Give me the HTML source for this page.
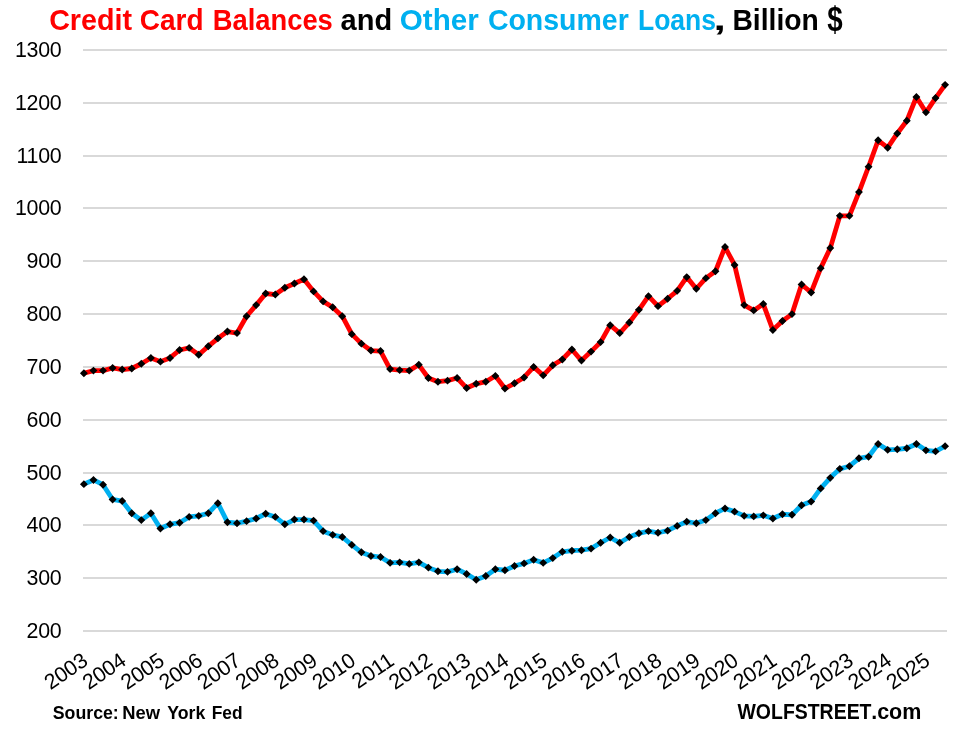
<!DOCTYPE html>
<html><head><meta charset="utf-8"><title>Credit Card Balances and Other Consumer Loans</title>
<style>
html,body{margin:0;padding:0;background:#fff;}
svg{display:block;font-family:"Liberation Sans",sans-serif;}
</style></head><body>
<svg width="956" height="732" viewBox="0 0 956 732">
<rect width="956" height="732" fill="#fff"/>

<line x1="83" x2="947" y1="631.00" y2="631.00" stroke="#d9d9d9" stroke-width="2"/>
<text x="61.5" y="637.70" font-size="21.4" letter-spacing="-0.25" text-anchor="end" fill="#000">200</text>
<line x1="83" x2="947" y1="578.00" y2="578.00" stroke="#d9d9d9" stroke-width="2"/>
<text x="61.5" y="584.70" font-size="21.4" letter-spacing="-0.25" text-anchor="end" fill="#000">300</text>
<line x1="83" x2="947" y1="525.00" y2="525.00" stroke="#d9d9d9" stroke-width="2"/>
<text x="61.5" y="531.70" font-size="21.4" letter-spacing="-0.25" text-anchor="end" fill="#000">400</text>
<line x1="83" x2="947" y1="473.00" y2="473.00" stroke="#d9d9d9" stroke-width="2"/>
<text x="61.5" y="479.70" font-size="21.4" letter-spacing="-0.25" text-anchor="end" fill="#000">500</text>
<line x1="83" x2="947" y1="420.00" y2="420.00" stroke="#d9d9d9" stroke-width="2"/>
<text x="61.5" y="426.70" font-size="21.4" letter-spacing="-0.25" text-anchor="end" fill="#000">600</text>
<line x1="83" x2="947" y1="367.00" y2="367.00" stroke="#d9d9d9" stroke-width="2"/>
<text x="61.5" y="373.70" font-size="21.4" letter-spacing="-0.25" text-anchor="end" fill="#000">700</text>
<line x1="83" x2="947" y1="314.00" y2="314.00" stroke="#d9d9d9" stroke-width="2"/>
<text x="61.5" y="320.70" font-size="21.4" letter-spacing="-0.25" text-anchor="end" fill="#000">800</text>
<line x1="83" x2="947" y1="261.00" y2="261.00" stroke="#d9d9d9" stroke-width="2"/>
<text x="61.5" y="267.70" font-size="21.4" letter-spacing="-0.25" text-anchor="end" fill="#000">900</text>
<line x1="83" x2="947" y1="208.00" y2="208.00" stroke="#d9d9d9" stroke-width="2"/>
<text x="61.5" y="214.70" font-size="21.4" letter-spacing="-0.25" text-anchor="end" fill="#000">1000</text>
<line x1="83" x2="947" y1="156.00" y2="156.00" stroke="#d9d9d9" stroke-width="2"/>
<text x="61.5" y="162.70" font-size="21.4" letter-spacing="-0.25" text-anchor="end" fill="#000">1100</text>
<line x1="83" x2="947" y1="103.00" y2="103.00" stroke="#d9d9d9" stroke-width="2"/>
<text x="61.5" y="109.70" font-size="21.4" letter-spacing="-0.25" text-anchor="end" fill="#000">1200</text>
<line x1="83" x2="947" y1="50.00" y2="50.00" stroke="#d9d9d9" stroke-width="2"/>
<text x="61.5" y="56.70" font-size="21.4" letter-spacing="-0.25" text-anchor="end" fill="#000">1300</text>
<polyline points="83.90,484.17 93.47,479.94 103.04,484.69 112.61,499.48 122.18,501.07 131.74,513.22 141.31,520.08 150.88,513.22 160.45,528.53 170.02,524.31 179.59,522.72 189.16,516.91 198.73,515.86 208.30,513.22 217.86,503.18 227.43,522.19 237.00,523.25 246.57,521.14 256.14,518.50 265.71,513.74 275.28,516.91 284.85,524.31 294.42,519.55 303.98,519.55 313.55,520.61 323.12,531.17 332.69,534.87 342.26,536.98 351.83,544.91 361.40,552.30 370.97,556.00 380.54,557.05 390.10,562.86 399.67,562.34 409.24,563.92 418.81,562.34 428.38,567.62 437.95,571.32 447.52,571.84 457.09,569.20 466.66,573.96 476.22,579.77 485.79,576.07 495.36,569.20 504.93,570.26 514.50,566.03 524.07,563.39 533.64,559.70 543.21,562.86 552.78,558.11 562.34,551.77 571.91,550.72 581.48,550.19 591.05,548.60 600.62,542.79 610.19,537.51 619.76,542.79 629.33,536.98 638.90,533.29 648.46,531.17 658.03,532.76 667.60,530.65 677.17,525.89 686.74,521.67 696.31,523.25 705.88,520.08 715.45,513.22 725.02,508.46 734.58,511.63 744.15,515.86 753.72,516.38 763.29,515.33 772.86,518.50 782.43,514.27 792.00,514.80 801.57,505.29 811.14,501.60 820.70,488.39 830.27,477.83 839.84,468.85 849.41,466.21 858.98,458.28 868.55,456.70 878.12,444.02 887.69,449.83 897.26,449.31 906.82,448.25 916.39,444.02 925.96,450.36 935.53,451.42 945.10,446.14" fill="none" stroke="#00b0f0" stroke-width="4.8" stroke-linejoin="round" stroke-linecap="round"/>
<path d="M79.95,484.17L83.90,480.22L87.85,484.17L83.90,488.12ZM89.52,479.94L93.47,475.99L97.42,479.94L93.47,483.89ZM99.09,484.69L103.04,480.74L106.99,484.69L103.04,488.64ZM108.66,499.48L112.61,495.53L116.56,499.48L112.61,503.43ZM118.23,501.07L122.18,497.12L126.13,501.07L122.18,505.02ZM127.79,513.22L131.74,509.27L135.69,513.22L131.74,517.17ZM137.36,520.08L141.31,516.13L145.26,520.08L141.31,524.03ZM146.93,513.22L150.88,509.27L154.83,513.22L150.88,517.17ZM156.50,528.53L160.45,524.58L164.40,528.53L160.45,532.48ZM166.07,524.31L170.02,520.36L173.97,524.31L170.02,528.26ZM175.64,522.72L179.59,518.77L183.54,522.72L179.59,526.67ZM185.21,516.91L189.16,512.96L193.11,516.91L189.16,520.86ZM194.78,515.86L198.73,511.91L202.68,515.86L198.73,519.81ZM204.35,513.22L208.30,509.27L212.25,513.22L208.30,517.17ZM213.91,503.18L217.86,499.23L221.81,503.18L217.86,507.13ZM223.48,522.19L227.43,518.24L231.38,522.19L227.43,526.14ZM233.05,523.25L237.00,519.30L240.95,523.25L237.00,527.20ZM242.62,521.14L246.57,517.19L250.52,521.14L246.57,525.09ZM252.19,518.50L256.14,514.55L260.09,518.50L256.14,522.45ZM261.76,513.74L265.71,509.79L269.66,513.74L265.71,517.69ZM271.33,516.91L275.28,512.96L279.23,516.91L275.28,520.86ZM280.90,524.31L284.85,520.36L288.80,524.31L284.85,528.26ZM290.47,519.55L294.42,515.60L298.37,519.55L294.42,523.50ZM300.03,519.55L303.98,515.60L307.93,519.55L303.98,523.50ZM309.60,520.61L313.55,516.66L317.50,520.61L313.55,524.56ZM319.17,531.17L323.12,527.22L327.07,531.17L323.12,535.12ZM328.74,534.87L332.69,530.92L336.64,534.87L332.69,538.82ZM338.31,536.98L342.26,533.03L346.21,536.98L342.26,540.93ZM347.88,544.91L351.83,540.96L355.78,544.91L351.83,548.86ZM357.45,552.30L361.40,548.35L365.35,552.30L361.40,556.25ZM367.02,556.00L370.97,552.05L374.92,556.00L370.97,559.95ZM376.59,557.05L380.54,553.10L384.49,557.05L380.54,561.00ZM386.15,562.86L390.10,558.91L394.05,562.86L390.10,566.81ZM395.72,562.34L399.67,558.39L403.62,562.34L399.67,566.29ZM405.29,563.92L409.24,559.97L413.19,563.92L409.24,567.87ZM414.86,562.34L418.81,558.39L422.76,562.34L418.81,566.29ZM424.43,567.62L428.38,563.67L432.33,567.62L428.38,571.57ZM434.00,571.32L437.95,567.37L441.90,571.32L437.95,575.27ZM443.57,571.84L447.52,567.89L451.47,571.84L447.52,575.79ZM453.14,569.20L457.09,565.25L461.04,569.20L457.09,573.15ZM462.71,573.96L466.66,570.01L470.61,573.96L466.66,577.91ZM472.27,579.77L476.22,575.82L480.17,579.77L476.22,583.72ZM481.84,576.07L485.79,572.12L489.74,576.07L485.79,580.02ZM491.41,569.20L495.36,565.25L499.31,569.20L495.36,573.15ZM500.98,570.26L504.93,566.31L508.88,570.26L504.93,574.21ZM510.55,566.03L514.50,562.08L518.45,566.03L514.50,569.98ZM520.12,563.39L524.07,559.44L528.02,563.39L524.07,567.34ZM529.69,559.70L533.64,555.75L537.59,559.70L533.64,563.65ZM539.26,562.86L543.21,558.91L547.16,562.86L543.21,566.81ZM548.83,558.11L552.78,554.16L556.73,558.11L552.78,562.06ZM558.39,551.77L562.34,547.82L566.29,551.77L562.34,555.72ZM567.96,550.72L571.91,546.77L575.86,550.72L571.91,554.67ZM577.53,550.19L581.48,546.24L585.43,550.19L581.48,554.14ZM587.10,548.60L591.05,544.65L595.00,548.60L591.05,552.55ZM596.67,542.79L600.62,538.84L604.57,542.79L600.62,546.74ZM606.24,537.51L610.19,533.56L614.14,537.51L610.19,541.46ZM615.81,542.79L619.76,538.84L623.71,542.79L619.76,546.74ZM625.38,536.98L629.33,533.03L633.28,536.98L629.33,540.93ZM634.95,533.29L638.90,529.34L642.85,533.29L638.90,537.24ZM644.51,531.17L648.46,527.22L652.41,531.17L648.46,535.12ZM654.08,532.76L658.03,528.81L661.98,532.76L658.03,536.71ZM663.65,530.65L667.60,526.70L671.55,530.65L667.60,534.60ZM673.22,525.89L677.17,521.94L681.12,525.89L677.17,529.84ZM682.79,521.67L686.74,517.72L690.69,521.67L686.74,525.62ZM692.36,523.25L696.31,519.30L700.26,523.25L696.31,527.20ZM701.93,520.08L705.88,516.13L709.83,520.08L705.88,524.03ZM711.50,513.22L715.45,509.27L719.40,513.22L715.45,517.17ZM721.07,508.46L725.02,504.51L728.97,508.46L725.02,512.41ZM730.63,511.63L734.58,507.68L738.53,511.63L734.58,515.58ZM740.20,515.86L744.15,511.91L748.10,515.86L744.15,519.81ZM749.77,516.38L753.72,512.43L757.67,516.38L753.72,520.33ZM759.34,515.33L763.29,511.38L767.24,515.33L763.29,519.28ZM768.91,518.50L772.86,514.55L776.81,518.50L772.86,522.45ZM778.48,514.27L782.43,510.32L786.38,514.27L782.43,518.22ZM788.05,514.80L792.00,510.85L795.95,514.80L792.00,518.75ZM797.62,505.29L801.57,501.34L805.52,505.29L801.57,509.24ZM807.19,501.60L811.14,497.65L815.09,501.60L811.14,505.55ZM816.75,488.39L820.70,484.44L824.65,488.39L820.70,492.34ZM826.32,477.83L830.27,473.88L834.22,477.83L830.27,481.78ZM835.89,468.85L839.84,464.90L843.79,468.85L839.84,472.80ZM845.46,466.21L849.41,462.26L853.36,466.21L849.41,470.16ZM855.03,458.28L858.98,454.33L862.93,458.28L858.98,462.23ZM864.60,456.70L868.55,452.75L872.50,456.70L868.55,460.65ZM874.17,444.02L878.12,440.07L882.07,444.02L878.12,447.97ZM883.74,449.83L887.69,445.88L891.64,449.83L887.69,453.78ZM893.31,449.31L897.26,445.36L901.21,449.31L897.26,453.26ZM902.87,448.25L906.82,444.30L910.77,448.25L906.82,452.20ZM912.44,444.02L916.39,440.07L920.34,444.02L916.39,447.97ZM922.01,450.36L925.96,446.41L929.91,450.36L925.96,454.31ZM931.58,451.42L935.53,447.47L939.48,451.42L935.53,455.37ZM941.15,446.14L945.10,442.19L949.05,446.14L945.10,450.09Z" fill="#000"/>
<polyline points="83.90,373.25 93.47,370.61 103.04,370.61 112.61,367.97 122.18,369.55 131.74,368.49 141.31,363.74 150.88,357.93 160.45,361.63 170.02,357.93 179.59,350.01 189.16,347.89 198.73,354.76 208.30,346.31 217.86,338.39 227.43,331.52 237.00,333.11 246.57,316.20 256.14,305.11 265.71,293.49 275.28,294.55 284.85,287.68 294.42,283.46 303.98,279.23 313.55,291.38 323.12,301.41 332.69,307.22 342.26,316.20 351.83,334.16 361.40,343.67 370.97,350.54 380.54,351.06 390.10,369.02 399.67,370.08 409.24,370.61 418.81,364.80 428.38,378.00 437.95,381.70 447.52,380.64 457.09,378.00 466.66,388.04 476.22,383.81 485.79,381.70 495.36,375.89 504.93,388.56 514.50,383.28 524.07,377.47 533.64,366.91 543.21,375.36 552.78,365.32 562.34,359.51 571.91,349.48 581.48,360.57 591.05,351.59 600.62,342.08 610.19,325.18 619.76,333.11 629.33,322.54 638.90,309.87 648.46,296.13 658.03,306.17 667.60,298.77 677.17,290.85 686.74,277.12 696.31,288.74 705.88,278.17 715.45,271.31 725.02,247.01 734.58,264.97 744.15,305.11 753.72,310.39 763.29,304.06 772.86,329.94 782.43,320.96 792.00,314.09 801.57,284.51 811.14,292.44 820.70,268.14 830.27,248.07 839.84,215.85 849.41,215.85 858.98,192.08 868.55,166.73 878.12,140.32 887.69,147.71 897.26,133.45 906.82,120.78 916.39,97.01 925.96,112.33 935.53,98.06 945.10,84.86" fill="none" stroke="#ff0000" stroke-width="4.8" stroke-linejoin="round" stroke-linecap="round"/>
<path d="M79.95,373.25L83.90,369.30L87.85,373.25L83.90,377.20ZM89.52,370.61L93.47,366.66L97.42,370.61L93.47,374.56ZM99.09,370.61L103.04,366.66L106.99,370.61L103.04,374.56ZM108.66,367.97L112.61,364.02L116.56,367.97L112.61,371.92ZM118.23,369.55L122.18,365.60L126.13,369.55L122.18,373.50ZM127.79,368.49L131.74,364.54L135.69,368.49L131.74,372.44ZM137.36,363.74L141.31,359.79L145.26,363.74L141.31,367.69ZM146.93,357.93L150.88,353.98L154.83,357.93L150.88,361.88ZM156.50,361.63L160.45,357.68L164.40,361.63L160.45,365.58ZM166.07,357.93L170.02,353.98L173.97,357.93L170.02,361.88ZM175.64,350.01L179.59,346.06L183.54,350.01L179.59,353.96ZM185.21,347.89L189.16,343.94L193.11,347.89L189.16,351.84ZM194.78,354.76L198.73,350.81L202.68,354.76L198.73,358.71ZM204.35,346.31L208.30,342.36L212.25,346.31L208.30,350.26ZM213.91,338.39L217.86,334.44L221.81,338.39L217.86,342.34ZM223.48,331.52L227.43,327.57L231.38,331.52L227.43,335.47ZM233.05,333.11L237.00,329.16L240.95,333.11L237.00,337.06ZM242.62,316.20L246.57,312.25L250.52,316.20L246.57,320.15ZM252.19,305.11L256.14,301.16L260.09,305.11L256.14,309.06ZM261.76,293.49L265.71,289.54L269.66,293.49L265.71,297.44ZM271.33,294.55L275.28,290.60L279.23,294.55L275.28,298.50ZM280.90,287.68L284.85,283.73L288.80,287.68L284.85,291.63ZM290.47,283.46L294.42,279.51L298.37,283.46L294.42,287.41ZM300.03,279.23L303.98,275.28L307.93,279.23L303.98,283.18ZM309.60,291.38L313.55,287.43L317.50,291.38L313.55,295.33ZM319.17,301.41L323.12,297.46L327.07,301.41L323.12,305.36ZM328.74,307.22L332.69,303.27L336.64,307.22L332.69,311.17ZM338.31,316.20L342.26,312.25L346.21,316.20L342.26,320.15ZM347.88,334.16L351.83,330.21L355.78,334.16L351.83,338.11ZM357.45,343.67L361.40,339.72L365.35,343.67L361.40,347.62ZM367.02,350.54L370.97,346.59L374.92,350.54L370.97,354.49ZM376.59,351.06L380.54,347.11L384.49,351.06L380.54,355.01ZM386.15,369.02L390.10,365.07L394.05,369.02L390.10,372.97ZM395.72,370.08L399.67,366.13L403.62,370.08L399.67,374.03ZM405.29,370.61L409.24,366.66L413.19,370.61L409.24,374.56ZM414.86,364.80L418.81,360.85L422.76,364.80L418.81,368.75ZM424.43,378.00L428.38,374.05L432.33,378.00L428.38,381.95ZM434.00,381.70L437.95,377.75L441.90,381.70L437.95,385.65ZM443.57,380.64L447.52,376.69L451.47,380.64L447.52,384.59ZM453.14,378.00L457.09,374.05L461.04,378.00L457.09,381.95ZM462.71,388.04L466.66,384.09L470.61,388.04L466.66,391.99ZM472.27,383.81L476.22,379.86L480.17,383.81L476.22,387.76ZM481.84,381.70L485.79,377.75L489.74,381.70L485.79,385.65ZM491.41,375.89L495.36,371.94L499.31,375.89L495.36,379.84ZM500.98,388.56L504.93,384.61L508.88,388.56L504.93,392.51ZM510.55,383.28L514.50,379.33L518.45,383.28L514.50,387.23ZM520.12,377.47L524.07,373.52L528.02,377.47L524.07,381.42ZM529.69,366.91L533.64,362.96L537.59,366.91L533.64,370.86ZM539.26,375.36L543.21,371.41L547.16,375.36L543.21,379.31ZM548.83,365.32L552.78,361.37L556.73,365.32L552.78,369.27ZM558.39,359.51L562.34,355.56L566.29,359.51L562.34,363.46ZM567.96,349.48L571.91,345.53L575.86,349.48L571.91,353.43ZM577.53,360.57L581.48,356.62L585.43,360.57L581.48,364.52ZM587.10,351.59L591.05,347.64L595.00,351.59L591.05,355.54ZM596.67,342.08L600.62,338.13L604.57,342.08L600.62,346.03ZM606.24,325.18L610.19,321.23L614.14,325.18L610.19,329.13ZM615.81,333.11L619.76,329.16L623.71,333.11L619.76,337.06ZM625.38,322.54L629.33,318.59L633.28,322.54L629.33,326.49ZM634.95,309.87L638.90,305.92L642.85,309.87L638.90,313.82ZM644.51,296.13L648.46,292.18L652.41,296.13L648.46,300.08ZM654.08,306.17L658.03,302.22L661.98,306.17L658.03,310.12ZM663.65,298.77L667.60,294.82L671.55,298.77L667.60,302.72ZM673.22,290.85L677.17,286.90L681.12,290.85L677.17,294.80ZM682.79,277.12L686.74,273.17L690.69,277.12L686.74,281.07ZM692.36,288.74L696.31,284.79L700.26,288.74L696.31,292.69ZM701.93,278.17L705.88,274.22L709.83,278.17L705.88,282.12ZM711.50,271.31L715.45,267.36L719.40,271.31L715.45,275.26ZM721.07,247.01L725.02,243.06L728.97,247.01L725.02,250.96ZM730.63,264.97L734.58,261.02L738.53,264.97L734.58,268.92ZM740.20,305.11L744.15,301.16L748.10,305.11L744.15,309.06ZM749.77,310.39L753.72,306.44L757.67,310.39L753.72,314.34ZM759.34,304.06L763.29,300.11L767.24,304.06L763.29,308.01ZM768.91,329.94L772.86,325.99L776.81,329.94L772.86,333.89ZM778.48,320.96L782.43,317.01L786.38,320.96L782.43,324.91ZM788.05,314.09L792.00,310.14L795.95,314.09L792.00,318.04ZM797.62,284.51L801.57,280.56L805.52,284.51L801.57,288.46ZM807.19,292.44L811.14,288.49L815.09,292.44L811.14,296.39ZM816.75,268.14L820.70,264.19L824.65,268.14L820.70,272.09ZM826.32,248.07L830.27,244.12L834.22,248.07L830.27,252.02ZM835.89,215.85L839.84,211.90L843.79,215.85L839.84,219.80ZM845.46,215.85L849.41,211.90L853.36,215.85L849.41,219.80ZM855.03,192.08L858.98,188.13L862.93,192.08L858.98,196.03ZM864.60,166.73L868.55,162.78L872.50,166.73L868.55,170.68ZM874.17,140.32L878.12,136.37L882.07,140.32L878.12,144.27ZM883.74,147.71L887.69,143.76L891.64,147.71L887.69,151.66ZM893.31,133.45L897.26,129.50L901.21,133.45L897.26,137.40ZM902.87,120.78L906.82,116.83L910.77,120.78L906.82,124.73ZM912.44,97.01L916.39,93.06L920.34,97.01L916.39,100.96ZM922.01,112.33L925.96,108.38L929.91,112.33L925.96,116.28ZM931.58,98.06L935.53,94.11L939.48,98.06L935.53,102.01ZM941.15,84.86L945.10,80.91L949.05,84.86L945.10,88.81Z" fill="#000"/>
<text transform="translate(89.10,664.1) rotate(-34)" font-size="21.4" letter-spacing="-0.25" text-anchor="end" fill="#000">2003</text>
<text transform="translate(127.38,664.1) rotate(-34)" font-size="21.4" letter-spacing="-0.25" text-anchor="end" fill="#000">2004</text>
<text transform="translate(165.65,664.1) rotate(-34)" font-size="21.4" letter-spacing="-0.25" text-anchor="end" fill="#000">2005</text>
<text transform="translate(203.93,664.1) rotate(-34)" font-size="21.4" letter-spacing="-0.25" text-anchor="end" fill="#000">2006</text>
<text transform="translate(242.20,664.1) rotate(-34)" font-size="21.4" letter-spacing="-0.25" text-anchor="end" fill="#000">2007</text>
<text transform="translate(280.48,664.1) rotate(-34)" font-size="21.4" letter-spacing="-0.25" text-anchor="end" fill="#000">2008</text>
<text transform="translate(318.75,664.1) rotate(-34)" font-size="21.4" letter-spacing="-0.25" text-anchor="end" fill="#000">2009</text>
<text transform="translate(357.03,664.1) rotate(-34)" font-size="21.4" letter-spacing="-0.25" text-anchor="end" fill="#000">2010</text>
<text transform="translate(395.30,664.1) rotate(-34)" font-size="21.4" letter-spacing="-0.25" text-anchor="end" fill="#000">2011</text>
<text transform="translate(433.58,664.1) rotate(-34)" font-size="21.4" letter-spacing="-0.25" text-anchor="end" fill="#000">2012</text>
<text transform="translate(471.86,664.1) rotate(-34)" font-size="21.4" letter-spacing="-0.25" text-anchor="end" fill="#000">2013</text>
<text transform="translate(510.13,664.1) rotate(-34)" font-size="21.4" letter-spacing="-0.25" text-anchor="end" fill="#000">2014</text>
<text transform="translate(548.41,664.1) rotate(-34)" font-size="21.4" letter-spacing="-0.25" text-anchor="end" fill="#000">2015</text>
<text transform="translate(586.68,664.1) rotate(-34)" font-size="21.4" letter-spacing="-0.25" text-anchor="end" fill="#000">2016</text>
<text transform="translate(624.96,664.1) rotate(-34)" font-size="21.4" letter-spacing="-0.25" text-anchor="end" fill="#000">2017</text>
<text transform="translate(663.23,664.1) rotate(-34)" font-size="21.4" letter-spacing="-0.25" text-anchor="end" fill="#000">2018</text>
<text transform="translate(701.51,664.1) rotate(-34)" font-size="21.4" letter-spacing="-0.25" text-anchor="end" fill="#000">2019</text>
<text transform="translate(739.78,664.1) rotate(-34)" font-size="21.4" letter-spacing="-0.25" text-anchor="end" fill="#000">2020</text>
<text transform="translate(778.06,664.1) rotate(-34)" font-size="21.4" letter-spacing="-0.25" text-anchor="end" fill="#000">2021</text>
<text transform="translate(816.34,664.1) rotate(-34)" font-size="21.4" letter-spacing="-0.25" text-anchor="end" fill="#000">2022</text>
<text transform="translate(854.61,664.1) rotate(-34)" font-size="21.4" letter-spacing="-0.25" text-anchor="end" fill="#000">2023</text>
<text transform="translate(892.89,664.1) rotate(-34)" font-size="21.4" letter-spacing="-0.25" text-anchor="end" fill="#000">2024</text>
<text transform="translate(931.16,664.1) rotate(-34)" font-size="21.4" letter-spacing="-0.25" text-anchor="end" fill="#000">2025</text>
<text x="49.17" y="29.6" font-size="29.5" font-weight="bold" fill="#ff0000" textLength="82.79" lengthAdjust="spacingAndGlyphs">Credit</text>
<text x="139.84" y="29.6" font-size="29.5" font-weight="bold" fill="#ff0000" textLength="63.71" lengthAdjust="spacingAndGlyphs">Card</text>
<text x="212.81" y="29.6" font-size="29.5" font-weight="bold" fill="#ff0000" textLength="120.01" lengthAdjust="spacingAndGlyphs">Balances</text>
<text x="340.59" y="29.6" font-size="29.5" font-weight="bold" fill="#000" textLength="51.56" lengthAdjust="spacingAndGlyphs">and</text>
<text x="399.77" y="29.6" font-size="29.5" font-weight="bold" fill="#00b0f0" textLength="79.09" lengthAdjust="spacingAndGlyphs">Other</text>
<text x="487.89" y="29.6" font-size="29.5" font-weight="bold" fill="#00b0f0" textLength="140.87" lengthAdjust="spacingAndGlyphs">Consumer</text>
<text x="637.94" y="29.6" font-size="29.5" font-weight="bold" fill="#00b0f0" textLength="78.10" lengthAdjust="spacingAndGlyphs">Loans</text>
<text x="713.42" y="29.6" font-size="29.5" font-weight="bold" fill="#000" textLength="12.36" lengthAdjust="spacingAndGlyphs">,</text>
<text x="732.47" y="29.6" font-size="29.5" font-weight="bold" fill="#000" textLength="86.29" lengthAdjust="spacingAndGlyphs">Billion</text>
<text x="827.21" y="30.9" font-size="35" font-weight="bold" fill="#000" textLength="15.40" lengthAdjust="spacingAndGlyphs">$</text>
<text x="52.73" y="718.7" font-size="18.5" font-weight="bold" fill="#000" textLength="66.07" lengthAdjust="spacingAndGlyphs">Source:</text>
<text x="122.22" y="718.7" font-size="18.5" font-weight="bold" fill="#000" textLength="37.78" lengthAdjust="spacingAndGlyphs">New</text>
<text x="167.25" y="718.7" font-size="18.5" font-weight="bold" fill="#000" textLength="38.01" lengthAdjust="spacingAndGlyphs">York</text>
<text x="211.68" y="718.7" font-size="18.5" font-weight="bold" fill="#000" textLength="30.88" lengthAdjust="spacingAndGlyphs">Fed</text>
<text x="737.50" y="718.5" font-size="22.5" font-weight="bold" fill="#000" textLength="134.00" lengthAdjust="spacingAndGlyphs">WOLFSTREET</text>
<text x="871.17" y="718.5" font-size="22.5" font-weight="bold" fill="#000" textLength="50.14" lengthAdjust="spacingAndGlyphs">.com</text>
</svg></body></html>
